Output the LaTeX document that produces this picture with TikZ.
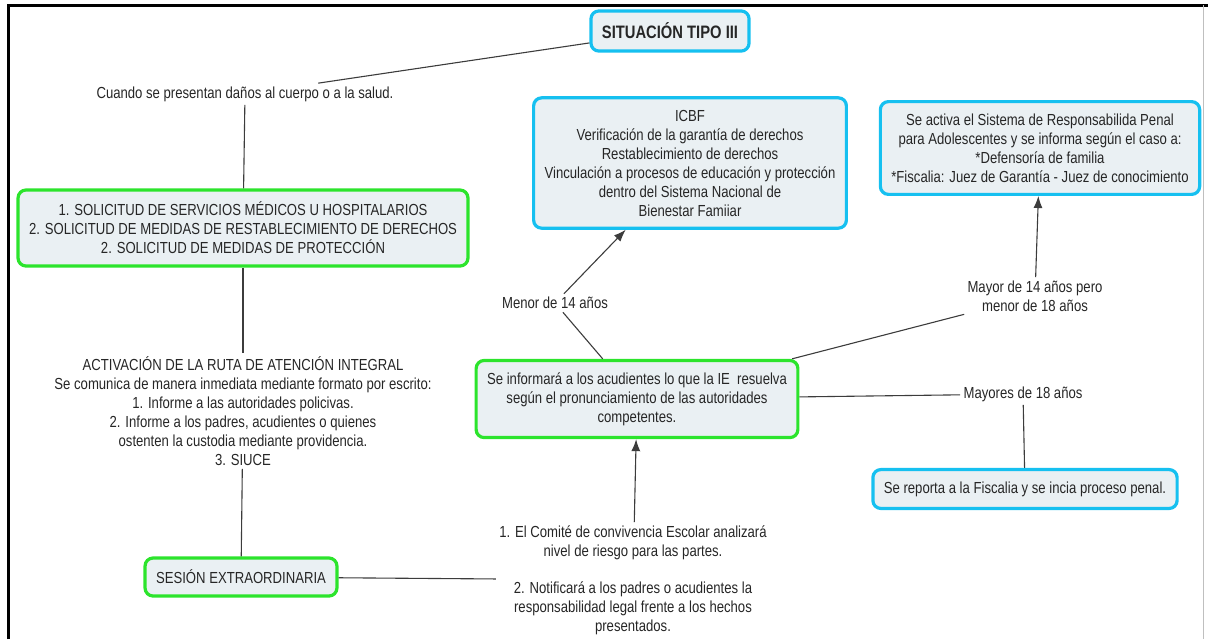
\documentclass[tikz,border=0pt]{standalone}
\usepackage{fontspec}
\setmainfont{Liberation Sans}[FakeStretch=0.82]
\usetikzlibrary{arrows.meta}
\definecolor{cmapblue}{RGB}{22,192,240}
\definecolor{cmapgreen}{RGB}{44,228,44}
\definecolor{cmapfill}{RGB}{234,240,243}
\definecolor{cmapline}{RGB}{60,60,60}

\begin{document}
\begin{tikzpicture}[x=0.5pt,y=-0.5pt]
\tikzset{every node/.style={font=\fontsize{8}{9.5}\selectfont, text=black!85}}
\tikzset{bluebox/.style={draw=cmapblue, line width=1.6pt, fill=cmapfill, rounded corners=4pt, align=center, inner xsep=5.5pt, inner ysep=6pt}}
\tikzset{greenbox/.style={bluebox, draw=cmapgreen}}
\tikzset{lbl/.style={align=center, inner sep=1.5pt}}
\tikzset{link/.style={cmapline, line width=0.55pt}}
\tikzset{>={Latex[length=6pt,width=4.5pt]}}
\useasboundingbox (0,0) rectangle (1208,639);
\draw[line width=1.5pt] (8,639) -- (8,5) -- (1208,5);
\draw[black!25] (1203,5) -- (1203,639);
		\node[bluebox, font=\fontsize{9}{11}\selectfont\bfseries] (tipo) at (670,31) {SITUACIÓN TIPO III};
		\node[lbl] (cuando) at (245,94) {Cuando se presentan daños al cuerpo o a la salud.};
		\node[greenbox] (solic) at (243,228) {1. SOLICITUD DE SERVICIOS MÉDICOS U HOSPITALARIOS\\2. SOLICITUD DE MEDIDAS DE RESTABLECIMIENTO DE DERECHOS\\2. SOLICITUD DE MEDIDAS DE PROTECCIÓN};
		\node[lbl] (activ) at (243,411) {ACTIVACIÓN DE LA RUTA DE ATENCIÓN INTEGRAL\\Se comunica de manera inmediata mediante formato por escrito:\\1. Informe a las autoridades policivas.\\2. Informe a los padres, acudientes o quienes\\ostenten la custodia mediante providencia.\\3. SIUCE};
		\node[greenbox] (sesion) at (241,577) {SESIÓN EXTRAORDINARIA};
		\node[bluebox] (icbf) at (690,163) {ICBF\\Verificación de la garantía de derechos\\Restablecimiento de derechos\\Vinculación a procesos de educación y protección\\dentro del Sistema Nacional de\\Bienestar Famiiar};
		\node[bluebox] (sistema) at (1040,148) {Se activa el Sistema de Responsabilida Penal\\para Adolescentes y se informa según el caso a:\\*Defensoría de familia\\*Fiscalia: Juez de Garantía - Juez de conocimiento};
		\node[lbl] (menor) at (555,303) {Menor de 14 años};
		\node[lbl] (mayor) at (1035,296) {Mayor de 14 años pero\\menor de 18 años};
		\node[greenbox] (informa) at (637,399) {Se informará a los acudientes lo que la IE\ \ resuelva\\según el pronunciamiento de las autoridades\\competentes.};
		\node[lbl] (mayores) at (1023,394) {Mayores de 18 años};
		\node[bluebox] (fiscal) at (1025,489) {Se reporta a la Fiscalia y se incia proceso penal.};
		\node[lbl] (comite) at (633,580) {1. El Comité de convivencia Escolar analizará\\nivel de riesgo para las partes.\\[9pt]2. Notificará a los padres o acudientes la\\responsabilidad legal frente a los hechos\\presentados.};
\draw[link] (tipo) -- (cuando);
\draw[link] (cuando) -- (solic);
\draw[link] (solic) -- (activ);
\draw[link] (activ) -- (sesion);
\draw[link] (sesion) -- (comite);
\draw[link,->] (comite) -- (informa);
\draw[link] (informa) -- (menor);
\draw[link,->] (menor) -- (icbf);
\draw[link] (informa) -- (mayor);
\draw[link,->] (mayor) -- (sistema);
\draw[link] (informa) -- (mayores);
\draw[link] (mayores) -- (fiscal);
\end{tikzpicture}
\end{document}
